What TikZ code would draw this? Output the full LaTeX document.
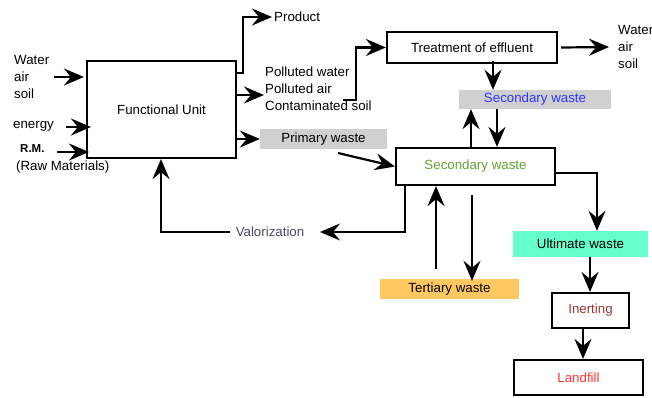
\documentclass[tikz,border=0pt]{standalone}
\usepackage{fontspec}
\setmainfont{Liberation Sans}
\usetikzlibrary{arrows.meta}
\definecolor{boxgray}{HTML}{D0D0D0}
\definecolor{secblue}{HTML}{3333FF}
\definecolor{secgreen}{HTML}{66A033}
\definecolor{terorange}{HTML}{FFC860}
\definecolor{ultaqua}{HTML}{66FFCC}
\definecolor{inertred}{HTML}{993333}
\definecolor{landred}{HTML}{FF3333}
\definecolor{valgray}{HTML}{4A4A58}
\begin{document}
\begin{tikzpicture}[x=1pt,y=-1pt,
  every node/.style={font=\fontsize{13.3}{17}\selectfont, inner sep=2pt},
  framebox/.style={draw, line width=2.2pt, rectangle, inner sep=0pt},
  fillbox/.style={rectangle, inner sep=0pt},
  txt/.style={align=left, anchor=west, inner sep=0pt},
  >={Stealth[length=20pt,width=17pt,inset=7pt]},
  arr/.style={line width=2.2pt, ->},
  ln/.style={line width=2.2pt}]
\useasboundingbox (0,0) rectangle (652,397);

% boxes
\node[framebox, minimum width=149pt, minimum height=97pt] (fu) at (161.5,109.5) {Functional Unit};
\node[framebox, minimum width=170pt, minimum height=31pt] (treat) at (472,47.5) {Treatment of effluent};
\node[fillbox, fill=boxgray, minimum width=152pt, minimum height=19pt, text=secblue] (gs) at (535,99.5) {Secondary waste};
\node[framebox, minimum width=159pt, minimum height=37pt, text=secgreen] (ss) at (475.5,166.5) {Secondary waste};
\node[fillbox, fill=boxgray, minimum width=127pt, minimum height=20pt] (prim) at (323.5,139) {Primary waste};
\node[fillbox, fill=terorange, minimum width=139pt, minimum height=20pt] (ter) at (449.5,289) {Tertiary waste};
\node[fillbox, fill=ultaqua, minimum width=135pt, minimum height=26pt] (ult) at (580.5,244) {Ultimate waste};
\node[framebox, minimum width=77pt, minimum height=35pt, text=inertred] (inert) at (590.5,310.5) {Inerting};
\node[framebox, minimum width=129pt, minimum height=35pt, text=landred] (land) at (578.5,377.5) {Landfill};

% labels
\node[txt] (win) at (14,77) {Water\\air\\soil};
\node[txt] (en) at (13,126) {energy};
\node[txt, font=\fontsize{11.5}{13}\selectfont\bfseries] (rm) at (20,149) {R.M.};
\node[txt] (rmt) at (16,167) {(Raw Materials)};
\node[txt] (prod) at (274,17) {Product};
\node[txt] (pol) at (265,89) {Polluted water\\Polluted air\\Contaminated soil};
\node[txt] (wout) at (618,47) {Water\\air\\soil};
\node[text=valgray, inner sep=6pt] (val) at (270,232) {Valorization};

% free ends
\coordinate (wa) at (54,77);
\coordinate (ea) at (66,127);
\coordinate (ra) at (57,152);
\coordinate (pa) at (343,100);
\coordinate (wo) at (609,47);
\coordinate (pw) at (338,153);
\coordinate (va) at (320,232);
\coordinate (tu) at (436,269);
\coordinate (td) at (472,195);

% connectors
\draw[arr] (wa) -- ([xshift=-2pt]fu.west |- wa);
\draw[arr] (ea) -- ([xshift=5pt]fu.west |- ea);
\draw[arr] (ra) -- ([xshift=3pt]fu.west |- ra);
\draw[arr] (fu.east |- 0,73) -- (243,73) -- (243,17) -- ([xshift=-2pt]prod.west);
\draw[arr] (fu.east |- 0,95) -- (264,95);
\draw[arr] (pa) -- (356,100) -- (356,47.5) -- (treat.west);
\draw[arr] ([xshift=3pt]treat.east) -- (wo);
\draw[arr] ([yshift=3pt]treat.south -| 493,0) -- (gs.north -| 493,0);
\draw[arr] (ss.north -| 471,0) -- (gs.south -| 471,0);
\draw[arr] (gs.south -| 497,0) -- (ss.north -| 497,0);
\draw[arr] (fu.east |- prim) -- (prim.west);
\draw[arr] (pw) -- (ss.west);
\draw[arr] (ss.south -| 405,0) -- (405,232) -- (va);
\draw[arr] (val.west) -- (161,232) -- (fu.south -| 161,0);
\draw[arr] (tu) -- (ss.south -| tu);
\draw[arr] (td) -- ([yshift=-2pt]ter.north -| td);
\draw[arr] (ss.east |- 0,173) -- (597,173) -- (ult.north -| 597,0);
\draw[arr] (ult.south -| 590,0) -- (inert.north -| 590,0);
\draw[arr] (inert.south -| 583,0) -- (land.north -| 583,0);
\end{tikzpicture}
\end{document}
